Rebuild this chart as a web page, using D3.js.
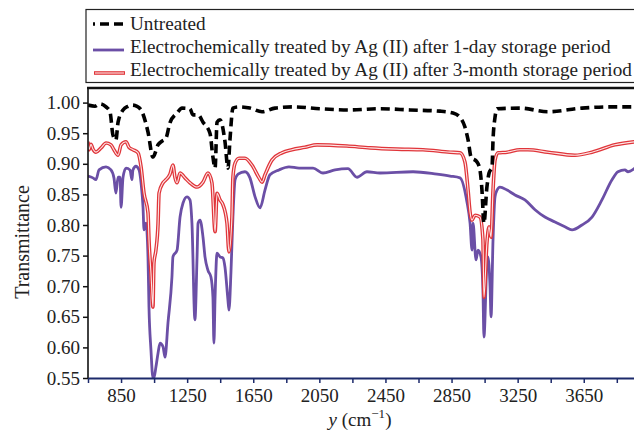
<!DOCTYPE html>
<html>
<head>
<meta charset="utf-8">
<script src="https://cdn.jsdelivr.net/npm/d3@7"></script>
<style>
  body { margin: 0; background: #fff; }
  svg { display: block; font-family: "Liberation Serif", "Times New Roman", serif; }
</style>
</head>
<body>
<div id="chart"></div>
<script>
// FTIR spectra, [wavenumber, transmittance]
var untreated = [
  [650,0.996],[692,0.994],[723,0.998],[759,0.993],[783,0.985],[801,0.947],[819,0.939],
  [832,0.968],[862,0.988],[892,0.994],[916,0.996],[947,0.994],[977,0.985],[1013,0.952],
  [1043,0.911],[1074,0.931],[1098,0.937],[1122,0.942],[1146,0.967],[1189,0.983],[1219,0.991],
  [1267,0.990],[1285,0.980],[1316,0.980],[1346,0.968],[1388,0.950],[1406,0.911],[1419,0.893],
  [1431,0.968],[1449,0.972],[1479,0.936],[1497,0.893],[1509,0.939],[1527,0.991],[1558,0.993],
  [1630,0.991],[1703,0.985],[1782,0.991],[1891,0.993],[2054,0.990],[2235,0.988],[2417,0.990],
  [2599,0.988],[2780,0.986],[2859,0.983],[2901,0.976],[2931,0.960],[2950,0.939],[2968,0.911],
  [3004,0.903],[3022,0.890],[3034,0.857],[3046,0.803],[3064,0.862],[3077,0.885],[3095,0.895],
  [3101,0.939],[3113,0.976],[3125,0.990],[3264,0.991],[3433,0.985],[3639,0.991],[3809,0.993],
  [3960,0.993]
];
var day1 = [
  [650,0.880],[680,0.877],[698,0.874],[717,0.890],[759,0.895],[789,0.890],[807,0.877],
  [819,0.852],[832,0.878],[844,0.878],[850,0.829],[862,0.878],[880,0.893],[904,0.890],
  [916,0.874],[922,0.890],[940,0.896],[959,0.890],[971,0.869],[983,0.829],[989,0.792],
  [1001,0.803],[1013,0.748],[1019,0.666],[1031,0.596],[1043,0.550],[1049,0.550],[1061,0.568],
  [1074,0.591],[1086,0.607],[1104,0.601],[1116,0.584],[1134,0.640],[1158,0.715],[1164,0.748],
  [1189,0.759],[1207,0.813],[1225,0.836],[1249,0.846],[1267,0.841],[1279,0.803],[1297,0.645],
  [1310,0.748],[1316,0.803],[1328,0.808],[1346,0.780],[1358,0.748],[1376,0.726],[1394,0.715],
  [1406,0.682],[1412,0.607],[1419,0.682],[1431,0.754],[1449,0.748],[1467,0.746],[1479,0.731],
  [1497,0.677],[1503,0.661],[1515,0.722],[1527,0.813],[1540,0.874],[1558,0.883],[1600,0.887],
  [1630,0.877],[1661,0.846],[1691,0.828],[1721,0.857],[1751,0.882],[1806,0.890],[1866,0.895],
  [1927,0.893],[2012,0.893],[2072,0.885],[2145,0.890],[2223,0.892],[2278,0.878],[2338,0.887],
  [2417,0.885],[2617,0.887],[2762,0.883],[2841,0.880],[2901,0.877],[2943,0.838],[2962,0.803],
  [2974,0.759],[2980,0.803],[2998,0.743],[3010,0.759],[3028,0.748],[3040,0.694],[3046,0.617],
  [3064,0.738],[3070,0.748],[3083,0.699],[3089,0.650],[3101,0.776],[3113,0.846],[3125,0.857],
  [3143,0.862],[3186,0.857],[3234,0.849],[3294,0.841],[3355,0.825],[3415,0.813],[3476,0.805],
  [3536,0.797],[3579,0.792],[3639,0.800],[3700,0.813],[3760,0.841],[3821,0.874],[3857,0.887],
  [3899,0.890],[3918,0.887],[3960,0.893]
];
var month3 = [
  [650,0.936],[656,0.923],[668,0.932],[680,0.924],[698,0.919],[729,0.926],[759,0.934],
  [789,0.931],[807,0.923],[832,0.914],[850,0.931],[880,0.936],[898,0.927],[922,0.923],
  [953,0.918],[971,0.895],[989,0.852],[1013,0.820],[1019,0.776],[1031,0.722],[1043,0.666],
  [1049,0.738],[1061,0.759],[1074,0.803],[1080,0.852],[1104,0.869],[1122,0.874],[1146,0.883],
  [1164,0.898],[1176,0.878],[1189,0.869],[1207,0.885],[1237,0.877],[1267,0.869],[1310,0.862],
  [1346,0.870],[1376,0.885],[1400,0.869],[1419,0.789],[1431,0.852],[1449,0.841],[1467,0.833],
  [1491,0.803],[1503,0.756],[1521,0.813],[1527,0.878],[1540,0.901],[1564,0.909],[1600,0.909],
  [1642,0.898],[1685,0.877],[1703,0.870],[1721,0.882],[1763,0.906],[1824,0.918],[1884,0.923],
  [1963,0.927],[2036,0.931],[2217,0.929],[2357,0.926],[2520,0.924],[2677,0.923],[2841,0.919],
  [2901,0.918],[2931,0.903],[2950,0.857],[2962,0.821],[2974,0.808],[2992,0.816],[3022,0.813],
  [3040,0.776],[3046,0.682],[3064,0.771],[3077,0.797],[3089,0.780],[3101,0.857],[3113,0.906],
  [3131,0.918],[3186,0.919],[3264,0.923],[3312,0.923],[3433,0.919],[3597,0.914],[3700,0.919],
  [3839,0.931],[3960,0.936]
];
var legendLabels = [
  "Untreated",
  "Electrochemically treated by Ag (II) after 1-day storage period",
  "Electrochemically treated by Ag (II) after 3-month storage period"
];
var yTicks = [0.55, 0.60, 0.65, 0.70, 0.75, 0.80, 0.85, 0.90, 0.95, 1.00];
var xTicks = d3.range(650, 4000, 200);

var width = 634, height = 432;
var plotLeft = 88, plotTop = 87, plotBottom = 378;
var navy = "#1c2a6b", purple = "#6b4fa6", red = "#e0353a";

var svg = d3.select("#chart").append("svg")
    .attr("width", width)
    .attr("height", height);

var x = d3.scaleLinear().domain([650, 4000]).range([plotLeft, plotLeft + 3350 * 0.16525]);
var y = d3.scaleLinear().domain([0.55, 1.0]).range([plotBottom, 102.6]);

svg.append("clipPath").attr("id", "plot")
  .append("rect").attr("x", plotLeft).attr("y", plotTop)
  .attr("width", width - plotLeft).attr("height", plotBottom - plotTop);

var line = d3.line()
    .x(function(d) { return x(d[0]); })
    .y(function(d) { return y(d[1]); })
    .curve(d3.curveMonotoneX);

var g = svg.append("g").attr("clip-path", "url(#plot)");

// purple 1-day
g.append("path").datum(day1)
  .attr("d", line).attr("fill", "none")
  .attr("stroke", purple).attr("stroke-width", 2.8).attr("stroke-linejoin", "round");

// red 3-month, double line look
g.append("path").datum(month3)
  .attr("d", line).attr("fill", "none")
  .attr("stroke", red).attr("stroke-width", 3.6).attr("stroke-linejoin", "round");
g.append("path").datum(month3)
  .attr("d", line).attr("fill", "none")
  .attr("stroke", "#fde6e6").attr("stroke-width", 1.1).attr("stroke-linejoin", "round");

// black dashed untreated
g.append("path").datum(untreated)
  .attr("d", line).attr("fill", "none")
  .attr("stroke", "#000").attr("stroke-width", 3.6)
  .attr("stroke-dasharray", "9,5").attr("stroke-linejoin", "round");

// axes
var xAxis = d3.axisBottom(x).tickValues(xTicks).tickSize(5).tickSizeOuter(0)
    .tickFormat(function(d) { return (d - 850) % 400 === 0 ? d : ""; });
var gx = svg.append("g").attr("transform", "translate(0," + plotBottom + ")").call(xAxis);
gx.select(".domain").attr("stroke", navy).attr("stroke-width", 2);
gx.selectAll(".tick line").attr("stroke", navy).attr("stroke-width", 1.5);
gx.selectAll(".tick text").attr("font-family", "Liberation Serif").attr("font-size", 19)
  .attr("fill", "#222").attr("y", 11);

var yAxis = d3.axisLeft(y).tickValues(yTicks).tickSize(5).tickSizeOuter(0)
    .tickFormat(d3.format(".2f"));
var gy = svg.append("g").attr("transform", "translate(" + plotLeft + ",0)").call(yAxis);
gy.select(".domain").remove();
gy.selectAll(".tick line").attr("stroke", "#111").attr("stroke-width", 1.5);
gy.selectAll(".tick text").attr("font-family", "Liberation Serif").attr("font-size", 19)
  .attr("fill", "#222").attr("x", -8);

svg.append("line").attr("x1", plotLeft).attr("x2", plotLeft).attr("y1", plotTop).attr("y2", plotBottom)
  .attr("stroke", "#111").attr("stroke-width", 1.6);
svg.append("line").attr("x1", plotLeft - 1).attr("x2", width).attr("y1", plotTop + 1).attr("y2", plotTop + 1)
  .attr("stroke", "#111").attr("stroke-width", 2.4);

// axis titles
svg.append("text")
  .attr("transform", "translate(29,242) rotate(-90)")
  .attr("text-anchor", "middle").attr("font-size", 20).attr("fill", "#222")
  .text("Transmittance");

var xt = svg.append("text").attr("x", 360).attr("y", 426)
  .attr("text-anchor", "middle").attr("font-size", 19).attr("fill", "#222");
xt.append("tspan").attr("font-style", "italic").text("y");
xt.append("tspan").text(" (cm");
xt.append("tspan").attr("font-size", 13).attr("dy", -8).text("\u22121");
xt.append("tspan").attr("dy", 8).text(")");

// legend
svg.append("rect").attr("x", 86).attr("y", 9.5).attr("width", 600).attr("height", 73)
  .attr("fill", "#fff").attr("stroke", "#222").attr("stroke-width", 1.2);

var leg = svg.append("g");
var rows = [
  {label: legendLabels[0], ly: 24, ty: 30},
  {label: legendLabels[1], ly: 50, ty: 53},
  {label: legendLabels[2], ly: 73, ty: 76}
];
leg.append("line").attr("x1", 93).attr("x2", 128).attr("y1", rows[0].ly).attr("y2", rows[0].ly)
  .attr("stroke", "#000").attr("stroke-width", 3.6).attr("stroke-dasharray", "9,5")
  .attr("stroke-dashoffset", 7);
leg.append("line").attr("x1", 93).attr("x2", 124).attr("y1", rows[1].ly).attr("y2", rows[1].ly)
  .attr("stroke", purple).attr("stroke-width", 2.8);
leg.append("line").attr("x1", 94).attr("x2", 125).attr("y1", rows[2].ly).attr("y2", rows[2].ly)
  .attr("stroke", red).attr("stroke-width", 3.6);
leg.append("line").attr("x1", 95).attr("x2", 124).attr("y1", rows[2].ly).attr("y2", rows[2].ly)
  .attr("stroke", "#fde6e6").attr("stroke-width", 1.1);

leg.selectAll("text.lab").data(rows).enter().append("text")
  .attr("class", "lab")
  .attr("x", 130).attr("y", function(d) { return d.ty; })
  .attr("font-size", 19.2).attr("fill", "#222")
  .text(function(d) { return d.label; });
</script>
</body>
</html>
